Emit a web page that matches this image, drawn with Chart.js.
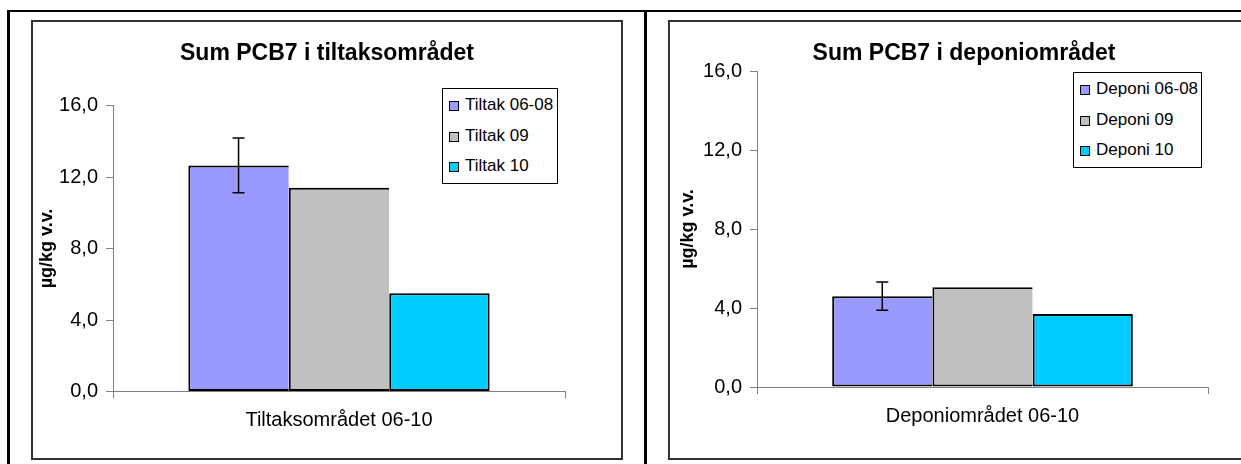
<!DOCTYPE html>
<html>
<head>
<meta charset="utf-8">
<script src="https://cdn.jsdelivr.net/npm/chart.js@4.4.1/dist/chart.umd.min.js"></script>
<style>
  body {
    margin: 0;
    width: 1241px;
    height: 464px;
    overflow: hidden;
    background: #fff;
    position: relative;
    font-family: "Liberation Sans", Arial, sans-serif;
  }
  .table-frame {
    position: absolute;
    left: 7px;
    top: 10px;
    width: 1300px;
    height: 500px;
    border-top: 2px solid #000;
    border-left: 3px solid #000;
  }
  .table-divider {
    position: absolute;
    left: 644px;
    top: 10px;
    width: 3px;
    height: 460px;
    background: #000;
  }
  .chart-box {
    position: absolute;
    top: 20px;
    width: 592px;
    height: 440px;
    box-sizing: border-box;
    border: 2px solid #333;
    background: #fff;
  }
  .chart-box canvas {
    position: absolute;
    left: 0;
    top: 0;
  }
  .chart-box__title {
    position: absolute;
    left: 0;
    top: 19px;
    width: 100%;
    text-align: center;
    font-size: 23px;
    line-height: 23px;
    font-weight: bold;
    color: #000;
  }
  .chart-legend {
    position: absolute;
    margin: 0;
    padding: 1px 6px;
    list-style: none;
    border: 1px solid #000;
    background: #fff;
  }
  .chart-legend__label {
    height: 30.5px;
    line-height: 30.5px;
    font-size: 17px;
    color: #000;
    white-space: nowrap;
  }
  .chart-legend__point {
    display: inline-block;
    width: 8px;
    height: 8px;
    border: 1px solid #000;
    margin-right: 6px;
    vertical-align: -1px;
  }
</style>
</head>
<body>
<div class="table-frame"></div>
<div class="table-divider"></div>

<div class="chart-box" style="left: 31px;">
  <canvas class="chart-tiltak" width="588" height="436"></canvas>
  <div class="chart-box__title">Sum PCB7 i tiltaksområdet</div>
  <div class="chart-legend-holder chart-tiltak__labels"></div>
</div>

<div class="chart-box" style="left: 668px;">
  <canvas class="chart-deponi" width="588" height="436"></canvas>
  <div class="chart-box__title">Sum PCB7 i deponiområdet</div>
  <div class="chart-legend-holder chart-deponi__labels"></div>
</div>

<script>
const yTicks = [0, 4, 8, 12, 16];
const seriesColors = ['#9999FF', '#C0C0C0', '#00CCFF'];

const tiltakCategories = ['Tiltaksområdet 06-10'];
const tiltakSeries = ['Tiltak 06-08', 'Tiltak 09', 'Tiltak 10'];
const tiltakValues = [12.65, 11.4, 5.5];
const tiltakErrors = [1.53, 0, 0];

const deponiCategories = ['Deponiområdet 06-10'];
const deponiSeries = ['Deponi 06-08', 'Deponi 09', 'Deponi 10'];
const deponiValues = [4.6, 5.05, 3.7];
const deponiErrors = [0.72, 0, 0];

Chart.defaults.font.family = '"Liberation Sans", Arial, sans-serif';
Chart.defaults.color = '#000';

// whiskers for datasets that carry an "errors" array
const errorBars = {
  id: 'errorBars',
  afterDatasetsDraw(chart) {
    const ctx = chart.ctx;
    const y = chart.scales.y;
    chart.data.datasets.forEach((ds, i) => {
      if (!ds.errors) return;
      chart.getDatasetMeta(i).data.forEach((bar, j) => {
        const err = ds.errors[j];
        if (!err) return;
        const top = y.getPixelForValue(ds.data[j] + err);
        const bottom = y.getPixelForValue(ds.data[j] - err);
        ctx.save();
        ctx.strokeStyle = '#000';
        ctx.lineWidth = 1.5;
        ctx.beginPath();
        ctx.moveTo(bar.x, top);
        ctx.lineTo(bar.x, bottom);
        ctx.moveTo(bar.x - 6, top);
        ctx.lineTo(bar.x + 6, top);
        ctx.moveTo(bar.x - 6, bottom);
        ctx.lineTo(bar.x + 6, bottom);
        ctx.stroke();
        ctx.restore();
      });
    });
  }
};

const chartsData = [
  {
    canvasClass: 'chart-tiltak',
    labelsClass: 'chart-tiltak__labels',
    categories: tiltakCategories,
    series: tiltakSeries,
    values: tiltakValues,
    errors: tiltakErrors,
    padding: { top: 83.5, right: 56, bottom: 0, left: 0 },
    yWidth: 80,
    xHeight: 66.5,
    legend: { left: 409, top: 66, width: 102 }
  },
  {
    canvasClass: 'chart-deponi',
    labelsClass: 'chart-deponi__labels',
    categories: deponiCategories,
    series: deponiSeries,
    values: deponiValues,
    errors: deponiErrors,
    padding: { top: 49, right: 50, bottom: 0, left: 4 },
    yWidth: 83,
    xHeight: 71,
    legend: { left: 403, top: 50, width: 115 }
  }
];

chartsData.forEach(chartData => {
  const $canvas = document.querySelector(`.${chartData.canvasClass}`);
  const last = chartData.series.length - 1;

  new Chart($canvas, {
    type: 'bar',
    data: {
      labels: chartData.categories,
      datasets: chartData.series.map((name, i) => ({
        label: name,
        data: [chartData.values[i]],
        errors: [chartData.errors[i]],
        backgroundColor: seriesColors[i],
        borderColor: '#000',
        // neighbouring bars share one edge line, as in Excel
        borderWidth: { top: 2, right: i === last ? 2 : 0, bottom: 2, left: 2 },
        borderSkipped: false,
        categoryPercentage: 2 / 3,
        barPercentage: 1
      }))
    },
    options: {
      responsive: false,
      animation: false,
      layout: { padding: chartData.padding },
      plugins: {
        legend: { display: false },
        title: { display: false },
        tooltip: { enabled: false }
      },
      scales: {
        x: {
          grid: { drawOnChartArea: false, offset: true, tickLength: 7, color: '#808080' },
          border: { color: '#808080' },
          ticks: { font: { size: 20 }, padding: 10 },
          afterFit: scale => { scale.height = chartData.xHeight; }
        },
        y: {
          min: yTicks[0],
          max: yTicks[yTicks.length - 1],
          afterBuildTicks: scale => { scale.ticks = yTicks.map(v => ({ value: v })); },
          grid: { drawOnChartArea: false, tickLength: 7, color: '#808080' },
          border: { color: '#808080' },
          ticks: {
            font: { size: 20 },
            padding: 8,
            callback: v => v.toFixed(1).replace('.', ',')
          },
          title: {
            display: true,
            text: 'µg/kg v.v.',
            font: { size: 18, weight: 'bold' },
            padding: { top: 3, bottom: 4 }
          },
          afterFit: scale => { scale.width = chartData.yWidth; }
        }
      }
    },
    plugins: [errorBars, {
      beforeInit: function (chart) {
        const ul = document.createElement('ul');
        ul.className = 'chart-legend';
        ul.style.left = chartData.legend.left + 'px';
        ul.style.top = chartData.legend.top + 'px';
        ul.style.width = chartData.legend.width + 'px';

        chartData.series.forEach((label, i) => {
          ul.innerHTML += `
            <li class="chart-legend__label">
              <span class="chart-legend__point" style="background-color: ${seriesColors[i]}"></span>${label}
            </li>
          `;
        });

        document.querySelector(`.${chartData.labelsClass}`).appendChild(ul);
      }
    }]
  });
});
</script>
</body>
</html>
